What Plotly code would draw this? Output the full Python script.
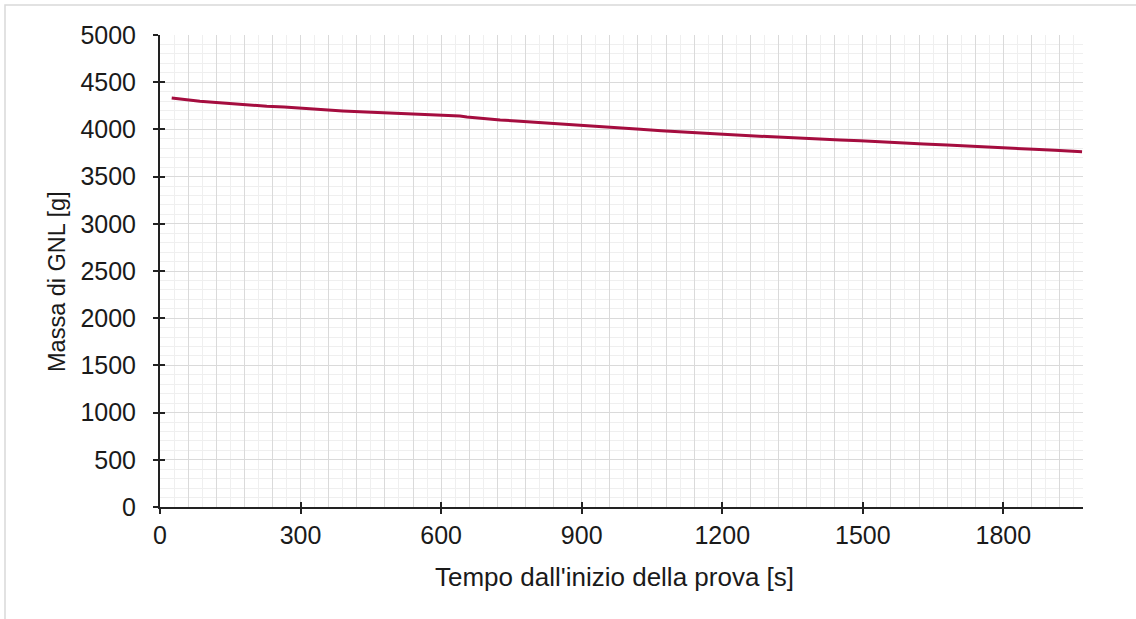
import plotly.graph_objects as go

# Data
time_s = [25, 55, 85, 120, 150, 190, 228, 265, 300, 330,
          360, 390, 427, 470, 512, 555, 598, 615, 630, 640,
          655, 690, 726, 760, 797, 830, 868, 900, 940, 968,
          1000, 1025, 1070, 1117, 1160, 1202, 1250, 1309, 1345, 1381,
          1420, 1452, 1495, 1537, 1587, 1630, 1680, 1740, 1801, 1830,
          1865, 1910, 1968]
mass_g = [4333, 4315, 4298, 4285, 4272, 4260, 4245, 4236, 4227, 4218,
          4207, 4196, 4186, 4178, 4170, 4162, 4153, 4148, 4141, 4142,
          4131, 4113, 4100, 4090, 4078, 4068, 4057, 4048, 4036, 4022,
          4010, 4001, 3985, 3969, 3958, 3948, 3935, 3919, 3910, 3902,
          3895, 3888, 3880, 3868, 3853, 3845, 3835, 3822, 3810, 3800,
          3789, 3778, 3764]

x_title = "Tempo dall'inizio della prova [s]"
y_title = "Massa di GNL [g]"
x_range = [0, 1970]
y_range = [0, 5000]

FONT = "Liberation Sans, Arial, sans-serif"
LINE_COLOR = "#a50d3f"
MAJOR = "#dadada"
MINOR = "#efefef"
TXT = "#1a1a1a"

fig = go.Figure()
fig.add_trace(go.Scatter(x=time_s, y=mass_g, mode="lines",
                         line=dict(color=LINE_COLOR, width=3),
                         showlegend=False, hoverinfo="x+y"))

fig.update_layout(
    width=1136, height=619,
    margin=dict(l=160, r=53, t=35, b=112),
    paper_bgcolor="white", plot_bgcolor="white",
    font=dict(family=FONT, size=25, color=TXT),
    xaxis=dict(range=x_range, dtick=60, tick0=0, showgrid=True, gridcolor=MAJOR, gridwidth=1,
               minor=dict(dtick=30, showgrid=True, gridcolor=MINOR, gridwidth=1),
               showticklabels=False, ticks="", zeroline=False, showline=False),
    xaxis2=dict(range=x_range, overlaying="x", anchor="y", side="bottom",
                dtick=300, tick0=0, showgrid=False, zeroline=False,
                showline=True, linecolor="#222222", linewidth=2,
                ticks="outside", ticklen=5, tickwidth=1.5, tickcolor="#222222",
                tickfont=dict(size=25, family=FONT, color=TXT)),
    xaxis3=dict(range=x_range, overlaying="x", anchor="y", side="bottom",
                dtick=300, tick0=0, showgrid=False, zeroline=False, showline=False,
                ticks="inside", ticklen=5, tickwidth=1.5, tickcolor="#222222",
                showticklabels=False),
    yaxis=dict(range=y_range, dtick=500, tick0=0, showgrid=True, gridcolor=MAJOR, gridwidth=1,
               minor=dict(dtick=100, showgrid=True, gridcolor=MINOR, gridwidth=1),
               zeroline=False, showline=True, linecolor="#222222", linewidth=2,
               ticks="outside", ticklen=5, tickwidth=1.5, tickcolor="#222222",
               ticklabelstandoff=12,
               tickfont=dict(size=25, family=FONT, color=TXT)),
    yaxis2=dict(range=y_range, overlaying="y", anchor="x", side="left",
                dtick=500, tick0=0, showgrid=False, zeroline=False, showline=False,
                ticks="inside", ticklen=5, tickwidth=1.5, tickcolor="#222222",
                showticklabels=False),
)

# dummy traces to activate overlay axes
fig.add_trace(go.Scatter(x=[None], y=[None], xaxis="x2", yaxis="y", showlegend=False, hoverinfo="skip"))
fig.add_trace(go.Scatter(x=[None], y=[None], xaxis="x3", yaxis="y", showlegend=False, hoverinfo="skip"))
fig.add_trace(go.Scatter(x=[None], y=[None], xaxis="x", yaxis="y2", showlegend=False, hoverinfo="skip"))

# axis titles as annotations for precise placement
fig.add_annotation(text=x_title, xref="paper", yref="paper",
                   x=(614 - 160) / 923, y=(507 - 577) / 472,
                   xanchor="center", yanchor="middle", showarrow=False,
                   font=dict(size=26, family=FONT, color=TXT))
fig.add_annotation(text=y_title, xref="paper", yref="paper",
                   x=(57 - 160) / 923, y=(507 - 282) / 472, textangle=-90,
                   xanchor="center", yanchor="middle", showarrow=False,
                   font=dict(size=23.5, family=FONT, color=TXT))

# light outer frame (top and left visible in reference)
fig.add_shape(type="rect", xref="paper", yref="paper",
              x0=(5 - 160) / 923, x1=(1145 - 160) / 923,
              y0=(507 - 630) / 472, y1=(507 - 5) / 472,
              line=dict(color="#d9d9d9", width=1.5), layer="below")

fig.write_html("out.html", config={"displayModeBar": False},
               post_script="document.body.style.margin='0';")
